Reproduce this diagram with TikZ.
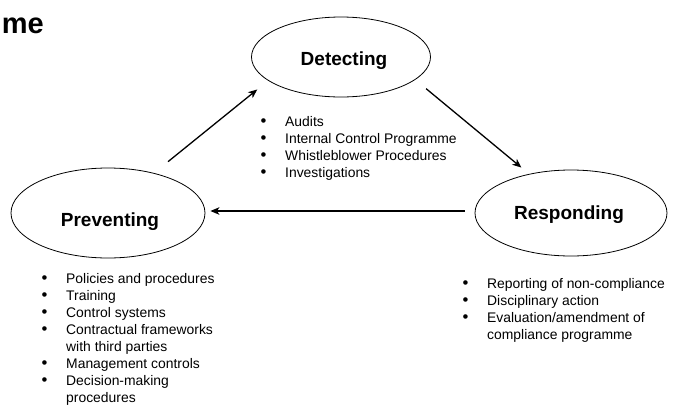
\documentclass[tikz,border=0pt]{standalone}
\usepackage{fontspec}
\setmainfont{Liberation Sans}
\usetikzlibrary{arrows.meta,shapes.geometric}

\newcommand{\bul}{\makebox[25pt][l]{\hspace*{0.5pt}\scalebox{1.2}{\textbullet}}}
\newcommand{\cont}{\hspace*{25pt}}

\begin{document}
\begin{tikzpicture}[x=1pt,y=-1pt,
  phase/.style={draw, ellipse, line width=0.8pt, inner sep=0pt},
  phasename/.style={font=\fontsize{19}{19}\selectfont\bfseries, anchor=base, inner sep=0pt},
  itemlist/.style={font=\fontsize{13.9}{17}\selectfont, align=left, anchor=north west, inner sep=0pt},
  flow/.style={-{Stealth[length=9pt,width=7.5pt,inset=2.5pt]}, line width=1.3pt}]
\clip (0,0) rectangle (673,405);

% Title (cut off)
\node[font=\fontsize{29}{29}\selectfont\bfseries, anchor=base east, inner sep=0pt] (title) at (44,33) {me};

% Phases
\node[phase, minimum width=179pt, minimum height=80pt] (det) at (341,57) {};
\node[phase, minimum width=192pt, minimum height=86pt] (resp) at (571,213) {};
\node[phase, minimum width=194pt, minimum height=90pt] (prev) at (108,213) {};
\node[phasename] (dettxt) at (344,65.5) {Detecting};
\node[phasename] (resptxt) at (569,219) {Responding};
\node[phasename] (prevtxt) at (110,226) {Preventing};

% Cycle
\draw[flow, shorten <=18pt, shorten >=14pt] (prev.41) -- (det.198);
\draw[flow, shorten <=14pt, shorten >=10pt] (det.343) -- (resp.137);
\draw[flow, shorten <=10pt, shorten >=5pt] ([yshift=2pt]resp.west) -- ([yshift=2pt]prev.east);

% Lists
\node[itemlist] (detlist) at (260,116) {\bul Audits\\
  \bul Internal Control Programme\\
  \bul Whistleblower Procedures\\
  \bul Investigations};
\node[itemlist] (resplist) at (462,278) {\bul Reporting of non-compliance\\
  \bul Disciplinary action\\
  \bul Evaluation/amendment of\\
  \cont compliance programme};
\node[itemlist] (prevlist) at (41,273.5) {\bul Policies and procedures\\
  \bul Training\\
  \bul Control systems\\
  \bul Contractual frameworks\\
  \cont with third parties\\
  \bul Management controls\\
  \bul Decision-making\\
  \cont procedures};

\end{tikzpicture}
\end{document}
